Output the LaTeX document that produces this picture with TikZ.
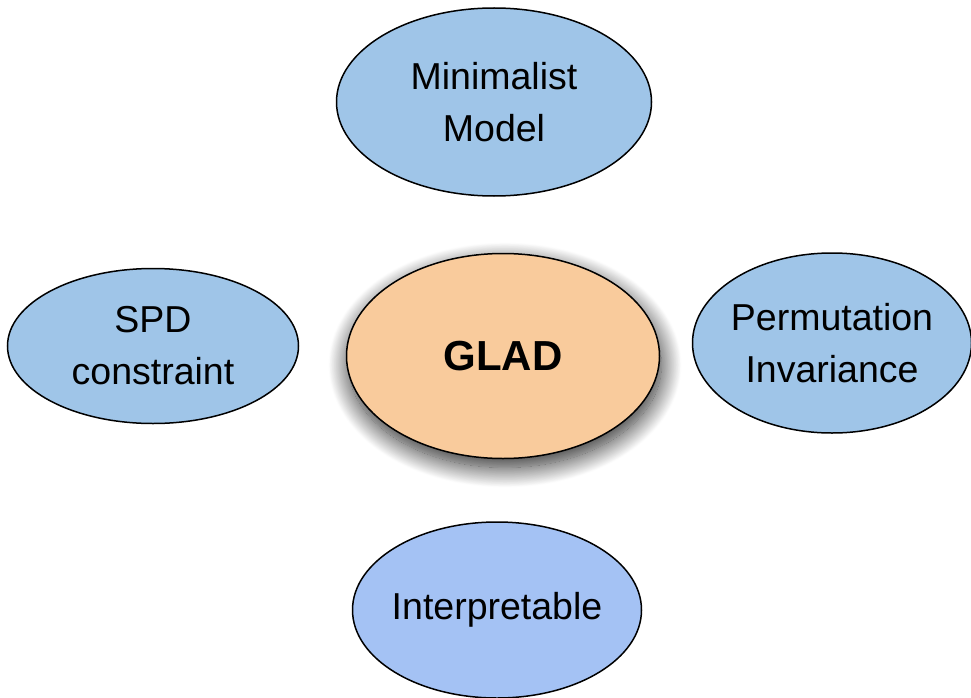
\documentclass[tikz,border=0pt]{standalone}
\usepackage{fontspec}
\setmainfont{Liberation Sans}
\usepackage{xcolor}
\usepackage{tikz}
\usetikzlibrary{shapes.geometric,shadows.blur}
\definecolor{gladblue}{HTML}{9FC5E8}
\definecolor{gladcorn}{HTML}{A4C2F4}
\definecolor{gladpeach}{HTML}{F9CB9C}

\begin{document}
\begin{tikzpicture}[x=1pt,y=-1pt,
  prop/.style={ellipse,draw=black,line width=1.5pt,fill=gladblue,inner sep=-25pt,align=center,font=\fontsize{37.5}{52}\selectfont},
  core/.style={ellipse,draw=black,line width=1.5pt,fill=gladpeach,inner sep=0pt,font=\fontsize{42}{50}\selectfont\bfseries,
    blur shadow={shadow xshift=2pt,shadow yshift=-9pt,shadow blur radius=20pt,shadow blur steps=30,shadow opacity=85}}
]
\useasboundingbox (0,0) rectangle (971,698);
\node[core,minimum width=313pt,minimum height=205pt] (glad) at (503,356) {GLAD};
\node[prop,minimum width=315pt,minimum height=188pt] (minimal) at (494,102) {Minimalist\\Model};
\node[prop,minimum width=291pt,minimum height=155pt] (spd) at (153,346) {SPD\\constraint};
\node[prop,minimum width=279pt,minimum height=180pt] (perm) at (832,343) {Permutation\\Invariance};
\node[prop,fill=gladcorn,minimum width=289pt,minimum height=176pt] (interp) at (497,610) {Interpretable};
\end{tikzpicture}
\end{document}
